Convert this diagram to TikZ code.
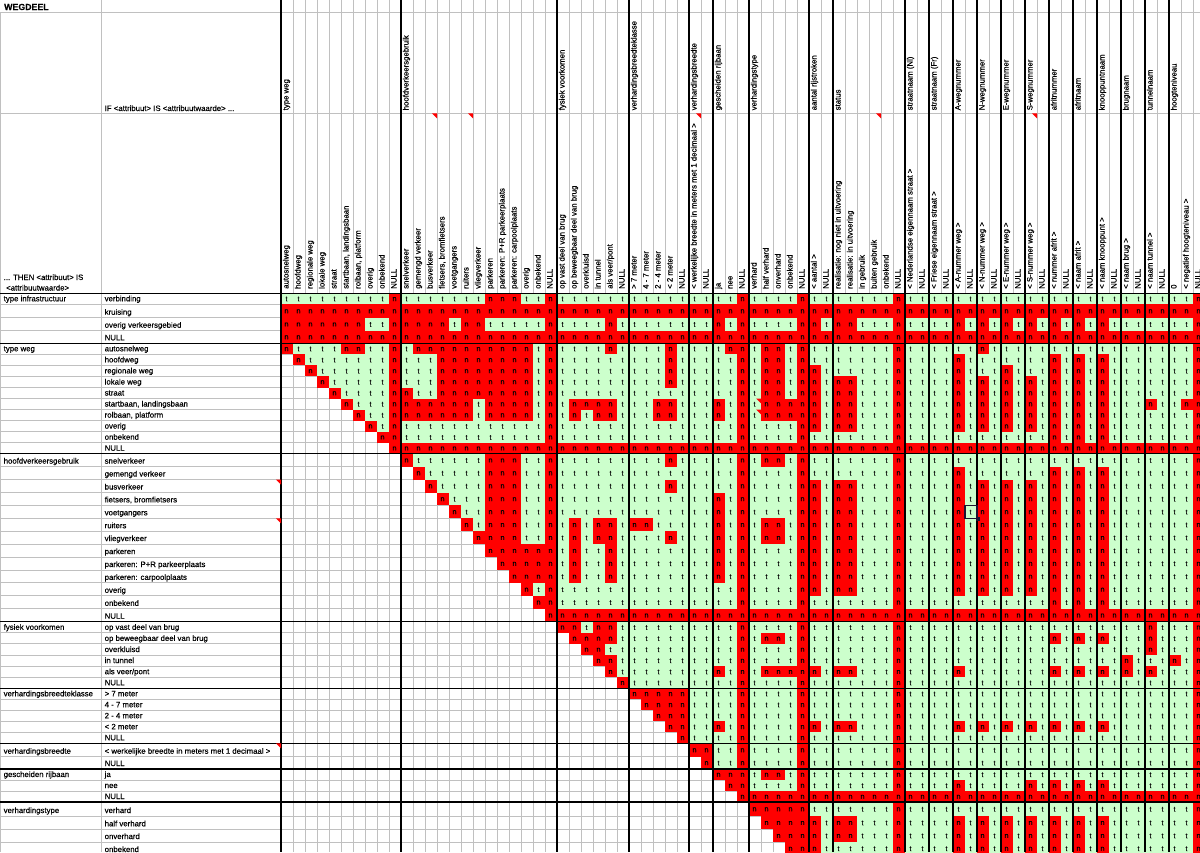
\documentclass[tikz,border=0pt]{standalone}
\usepackage{fontspec}
\setmainfont[FakeBold=0.35]{Liberation Sans}
\definecolor{cellgreen}{HTML}{CCFFCC}
\definecolor{cellred}{HTML}{FF0000}
\definecolor{gridgray}{HTML}{C0C0C0}
\definecolor{selcol}{HTML}{1E1432}
\tikzset{
  gridline/.style={draw=gridgray, line width=0.9pt},
  blackline/.style={draw=black, line width=1.1pt},
  lbl/.style={anchor=base west, inner sep=0pt, font=\fontsize{7.8}{9}\selectfont},
  vhead/.style={lbl, rotate=90},
  celltxt/.style={inner sep=0pt, font=\fontsize{7.2}{8}\selectfont},
  commark/.style={fill=cellred},
}
\newcount\ccol
\newcount\crow
\def\cellrow#1#2#3{\def\rtop{#1}\def\rbot{#2}\ccol=0 \parsecells#3\relax
  \ifnum\ccol=77 \else\node[text=blue,font=\Huge] at (600,400) {BAD ROW \the\crow};\fi
  \advance\crow by 1\relax}
\def\parsecells#1{\ifx#1\relax\let\pcnext\relax\else\def\pcnext{\csname cellX#1\endcsname\parsecells}\fi\pcnext}
\expandafter\def\csname cellX|\endcsname{}
\expandafter\def\csname cellX.\endcsname{\advance\ccol by 1\relax}
\expandafter\def\csname cellXt\endcsname{\drawcell{cellgreen}{t}}
\expandafter\def\csname cellXn\endcsname{\drawcell{cellred}{n}}
\def\drawcell#1#2{%
  \edef\cxl{\the\numexpr281+12*\ccol\relax}%
  \edef\cxr{\the\numexpr293+12*\ccol\relax}%
  \fill[#1] (\cxl,\rtop) rectangle (\cxr,\rbot);
  \node[celltxt, name=c\the\crow-\the\ccol] at ({\cxl+5.5},{(\rtop+\rbot)/2+0.3}) {#2};
  \advance\ccol by 1\relax}
\def\cmark#1#2{\fill[commark] ({#1-5},#2) -- (#1,#2) -- (#1,{#2+5}) -- cycle;}
\begin{document}
\begin{tikzpicture}[x=1pt,y=-1pt]
\useasboundingbox (0,0) rectangle (1200,852);
\clip (0,0) rectangle (1200,852);
\fill[white] (0,0) rectangle (1200,852);
% grid
\foreach \k in {0,...,77} \draw[gridline] ({281+12*\k},0) -- ({281+12*\k},852);
\draw[gridline] (101.7,0) -- (101.7,852);
\draw[gridline] (0.5,12.3) -- (0.5,852);
\foreach \y in {12.3,113.3,304.3,317.7,330.7,354.3,365.4,376.4,387.5,398.5,409.5,420.6,431.6,442.7,466.6,479.5,492.5,505.4,518.3,531.2,544.1,557.1,570.0,582.9,595.8,608.8,632.8,643.9,655.0,666.1,677.2,699.3,710.3,721.3,732.3,756.7,780,791,816,829.3,842}
  \draw[gridline] (0,\y) -- (1200,\y);
% cells
\crow=0
\cellrow{293.3}{304.3}{tttttttttn|tttttttnnnttn|tttttt|ttttt|tt|ttn|ttttn|tt|tttttn|tt|tt|tt|tt|tt|tt|tt|tt|tt|tt|tt|ttn}
\cellrow{304.3}{317.7}{nnnnnnnnnn|nnnnnnnnnnnnn|nnnnnn|nnnnn|nn|nnn|nnnnn|nn|nnnnnn|nn|nn|nn|nn|nn|nn|nn|nn|nn|nn|nn|nnn}
\cellrow{317.7}{330.7}{nnnnnnnttn|nnnntnntttttn|ttttnt|ttttt|tt|ntn|ttttn|nt|nntttn|tt|tt|nt|nt|nt|nt|nt|nt|nt|tt|tt|ttn}
\cellrow{330.7}{343.3}{nnnnnnnnnn|nnnnnnnnnnnnn|nnnnnn|nnnnn|nn|nnn|nnnnn|nn|nnnnnn|nn|nn|nn|nn|nn|nn|nn|nn|nn|nn|nn|nnn}
\cellrow{343.3}{354.3}{nttttnnttn|tnnnnnnnnnntn|ttttnt|tttnt|tt|tnn|tnntn|tt|tttttn|tt|tt|tt|nt|tt|tt|tt|tt|tt|tt|tt|ttn}
\cellrow{354.3}{365.4}{.ntttttttn|tttnnnnnnnntn|tttttt|tttnt|tt|ttn|tnntn|tt|tttttn|tt|tt|nt|tt|tt|tt|nt|nt|nt|tt|tt|ttn}
\cellrow{365.4}{376.4}{..nttttttn|tttnnnnnnnntn|tttttt|tttnt|tt|ttn|tnntn|nt|tttttn|tt|tt|nt|tt|nt|tt|nt|nt|nt|tt|tt|ttn}
\cellrow{376.4}{387.5}{...ntttttn|tttnnnnnnnntn|tttttt|tttnt|tt|ttn|tnntn|nt|nntttn|tt|tt|nt|nt|nt|nt|nt|nt|nt|tt|tt|ttn}
\cellrow{387.5}{398.5}{....nttttn|nttnnnnnnnntn|tttttt|ttttt|tt|ttn|tnntn|nt|nntttn|tt|tt|nt|nt|nt|nt|nt|nt|nt|tt|tt|ttn}
\cellrow{398.5}{409.5}{.....ntttn|nnnnnntnnnntn|tnnnnt|ttnnt|tt|ntn|tnnnn|nt|nntttn|tt|tt|nt|nt|nt|nt|nt|nt|nt|tt|nt|tnn}
\cellrow{409.5}{420.6}{......nttn|nnnnnntnnnntn|tntnnt|ttnnt|tt|ntn|tnnnn|nt|nntttn|tt|tt|nt|nt|nt|nt|nt|nt|nt|tt|tt|ttn}
\cellrow{420.6}{431.6}{.......ntn|ttttttttttttn|tttttt|ttttt|tt|ttn|ttttn|nt|nntttn|tt|tt|nt|nt|nt|nt|nt|nt|nt|tt|tt|ttn}
\cellrow{431.6}{442.7}{........nn|ttttttttttttn|tttttt|ttttt|tt|ttn|ttttn|tt|tttttn|tt|tt|tt|tt|tt|tt|nt|nt|nt|tt|tt|ttn}
\cellrow{442.7}{453.7}{.........n|nnnnnnnnnnnnn|nnnnnn|nnnnn|nn|nnn|nnnnn|nn|nnnnnn|nn|nn|nn|nn|nn|nn|nn|nn|nn|nn|nn|nnn}
\cellrow{453.7}{466.6}{..........|nttttttnnnttn|tttttt|tttnt|tt|ttn|tnntn|tt|tttttn|tt|tt|tt|tt|tt|tt|tt|tt|tt|tt|tt|ttn}
\cellrow{466.6}{479.5}{..........|.ntttttnnnttn|tttttt|ttttt|tt|ttn|ttttn|tt|tttttn|tt|tt|nt|tt|tt|tt|nt|nt|nt|tt|tt|ttn}
\cellrow{479.5}{492.5}{..........|..nttttnnnttn|tttttt|tttnt|tt|ttn|ttttn|nt|nntttn|tt|tt|nt|nt|nt|nt|nt|nt|nt|tt|tt|ttn}
\cellrow{492.5}{505.4}{..........|...ntttnnnttn|tttttt|ttttt|tt|ntn|ttttn|nt|nntttn|tt|tt|nt|nt|nt|nt|nt|nt|nt|tt|tt|ttn}
\cellrow{505.4}{518.3}{..........|....nttnnnttn|tttttt|ttttt|tt|ntn|ttttn|nt|nntttn|tt|tt|nt|nt|nt|nt|nt|nt|nt|tt|tt|ttn}
\cellrow{518.3}{531.2}{..........|.....ntnnnttn|tntnnt|nnttt|tt|ntn|tnntn|nt|nntttn|tt|tt|nt|nt|nt|nt|nt|nt|nt|tt|tt|ttn}
\cellrow{531.2}{544.1}{..........|......nnnnttn|tntnnt|tttnt|tt|ntn|tnntn|nt|nntttn|tt|tt|nt|nt|nt|nt|nt|nt|nt|tt|tt|ttn}
\cellrow{544.1}{557.1}{..........|.......nnnnnn|tnttnt|ttttt|tt|ntn|ttttn|nt|nntttn|tt|tt|nt|nt|nt|nt|nt|nt|nt|tt|tt|ttn}
\cellrow{557.1}{570.0}{..........|........nnnnn|tnttnt|ttttt|tt|ntn|ttttn|nt|nntttn|tt|tt|nt|nt|nt|nt|nt|nt|nt|tt|tt|ttn}
\cellrow{570.0}{582.9}{..........|.........nnnn|tnttnt|ttttt|tt|ntn|ttttn|nt|nntttn|tt|tt|nt|nt|nt|nt|nt|nt|nt|tt|tt|ttn}
\cellrow{582.9}{595.8}{..........|..........ntn|tttttt|ttttt|tt|ttn|ttttn|nt|nntttn|tt|tt|nt|nt|nt|nt|nt|nt|nt|tt|tt|ttn}
\cellrow{595.8}{608.8}{..........|...........nn|tttttt|ttttt|tt|ttn|ttttn|tt|tttttn|tt|tt|tt|tt|tt|tt|nt|nt|nt|tt|tt|ttn}
\cellrow{608.8}{621.7}{..........|............n|nnnnnn|nnnnn|nn|nnn|nnnnn|nn|nnnnnn|nn|nn|nn|nn|nn|nn|nn|nn|nn|nn|nn|nnn}
\cellrow{621.7}{632.8}{..........|.............|nntnnt|ttttt|tt|ttn|ttttn|tt|tttttn|tt|tt|tt|tt|tt|tt|tt|tt|tt|tt|nt|ttn}
\cellrow{632.8}{643.9}{..........|.............|.nnnnt|ttttt|tt|ttn|tnntn|tt|tttttn|tt|tt|tt|tt|tt|tt|nt|nt|nt|tt|nt|ttn}
\cellrow{643.9}{655.0}{..........|.............|..nntt|ttttt|tt|ttn|ttttn|tt|tttttn|tt|tt|tt|tt|tt|tt|tt|tt|tt|tt|nt|ttn}
\cellrow{655.0}{666.1}{..........|.............|...nnt|ttttt|tt|ttn|ttttn|tt|tttttn|tt|tt|tt|tt|tt|tt|tt|tt|tt|nt|tt|ntn}
\cellrow{666.1}{677.2}{..........|.............|....nt|ttttt|tt|ntn|tnnnn|nt|nntttn|tt|tt|nt|tt|tt|tt|nt|nt|nt|nt|nt|ttn}
\cellrow{677.2}{688.3}{..........|.............|.....n|ttttt|tt|ttn|ttttn|tt|tttttn|tt|tt|tt|tt|tt|tt|tt|tt|tt|tt|tt|ttn}
\cellrow{688.3}{699.3}{..........|.............|......|nnnnn|tt|ttn|ttttn|tt|tttttn|tt|tt|tt|tt|tt|tt|tt|tt|tt|tt|tt|ttn}
\cellrow{699.3}{710.3}{..........|.............|......|.nnnn|tt|ttn|ttttn|tt|tttttn|tt|tt|tt|tt|tt|tt|tt|tt|tt|tt|tt|ttn}
\cellrow{710.3}{721.3}{..........|.............|......|..nnn|tt|ttn|ttttn|tt|tttttn|tt|tt|tt|tt|tt|tt|tt|tt|tt|tt|tt|ttn}
\cellrow{721.3}{732.3}{..........|.............|......|...nn|tt|ntn|ttttn|nt|nntttn|tt|tt|nt|nt|nt|nt|nt|nt|nt|tt|tt|ttn}
\cellrow{732.3}{743.3}{..........|.............|......|....n|tt|ttn|ttttn|tt|tttttn|tt|tt|tt|tt|tt|tt|tt|tt|tt|tt|tt|ttn}
\cellrow{743.3}{756.7}{..........|.............|......|.....|nn|ttn|ttttn|tt|tttttn|tt|tt|tt|tt|tt|tt|tt|tt|tt|tt|tt|ttn}
\cellrow{756.7}{769}{..........|.............|......|.....|.n|ttn|ttttn|tt|tttttn|tt|tt|tt|tt|tt|tt|tt|tt|tt|tt|tt|ttn}
\cellrow{769}{780}{..........|.............|......|.....|..|nnn|tnntn|tt|tttttn|tt|tt|tt|tt|tt|tt|tt|tt|tt|tt|tt|ttn}
\cellrow{780}{791}{..........|.............|......|.....|..|.nn|ttttn|tt|tttttn|tt|tt|nt|tt|tt|nt|nt|nt|nt|tt|tt|ttn}
\cellrow{791}{802}{..........|.............|......|.....|..|..n|nnnnn|nn|nnnnnn|nn|nn|nn|nn|nn|nn|nn|nn|nn|nn|nn|nnn}
\cellrow{802}{816}{..........|.............|......|.....|..|...|nnnnn|tt|tttttn|tt|tt|tt|tt|tt|tt|tt|tt|tt|tt|tt|ttn}
\cellrow{816}{829.3}{..........|.............|......|.....|..|...|.nnnn|nt|nntttn|tt|tt|nt|nt|nt|nt|nt|nt|nt|tt|tt|ttn}
\cellrow{829.3}{842}{..........|.............|......|.....|..|...|..nnn|nt|nntttn|tt|tt|nt|nt|nt|nt|nt|nt|nt|tt|tt|ttn}
\cellrow{842}{855}{..........|.............|......|.....|..|...|...nn|nt|tttttn|tt|tt|nt|nt|nt|nt|nt|nt|nt|tt|tt|ttn}
% black lines
\foreach \k in {0,10,23,29,34,36,39,44,46,52,54,56,58,60,62,64,66,68,70,72,74}
  \draw[blackline] ({281+12*\k},0) -- ({281+12*\k},852);
\foreach \y in {293.3,343.3,453.7,621.7,688.3,743.3,769,802}
  \draw[blackline] (0,\y) -- (1200,\y);
% comment markers
\cmark{437}{113.3}\cmark{473}{113.3}\cmark{701}{113.3}\cmark{881}{113.3}\cmark{1037}{113.3}
\cmark{281}{479.5}\cmark{281}{518.3}\cmark{281}{743.3}
\cmark{761}{398.5}\cmark{761}{409.5}
% selection cursor
\draw[line width=1.6pt, draw=selcol] (965,505.4) rectangle (977,518.3);
\fill[selcol] (975.5,516.5) rectangle (979.5,520.5);
% header texts
\node[lbl, font=\fontsize{8.8}{10}\selectfont\bfseries, name=title] at (4,10) {WEGDEEL};
\node[lbl, name=ifhead] at (104.5,111) {IF <attribuut> IS <attribuutwaarde> ...};
\node[lbl, name=then1] at (3.5,280) {... THEN <attribuut> IS};
\node[lbl, name=then2] at (6,290.5) {<attribuutwaarde>};
% group heads (columns)
\foreach \c/\t in {0/type weg,10/hoofdverkeersgebruik,23/fysiek voorkomen,29/verhardingsbreedteklasse,34/verhardingsbreedte,36/gescheiden rijbaan,39/verhardingstype,44/aantal rijstroken,46/status,52/straatnaam (Nl),54/straatnaam (Fr),56/A-wegnummer,58/N-wegnummer,60/E-wegnummer,62/S-wegnummer,64/afritnummer,66/afritnaam,68/knooppuntnaam,70/brugnaam,72/tunnelnaam,74/hoogteniveau}
  \node[vhead, name=gh\c] at ({288.5+12*\c},110.5) {\t};
% value heads (columns)
\foreach \t [count=\i from 0] in {autosnelweg,hoofdweg,regionale weg,lokale weg,straat,{startbaan, landingsbaan},{rolbaan, platform},overig,onbekend,NULL,
  snelverkeer,gemengd verkeer,busverkeer,{fietsers, bromfietsers},voetgangers,ruiters,vliegverkeer,parkeren,parkeren: P+R parkeerplaats,parkeren: carpoolplaats,overig,onbekend,NULL,
  op vast deel van brug,op beweegbaar deel van brug,overkluisd,in tunnel,als veer/pont,NULL,
  > 7 meter,4 - 7 meter,2 - 4 meter,< 2 meter,NULL,
  < werkelijke breedte in meters met 1 decimaal >,NULL,
  ja,nee,NULL,
  verhard,half verhard,onverhard,onbekend,NULL,
  < aantal >,NULL,
  realisatie: nog niet in uitvoering,realisatie: in uitvoering,in gebruik,buiten gebruik,onbekend,NULL,
  < Nederlandse eigennaam straat >,NULL,< Friese eigennaam straat >,NULL,< A-nummer weg >,NULL,< N-nummer weg >,NULL,< E-nummer weg >,NULL,< S-nummer weg >,NULL,< nummer afrit >,NULL,< naam afrit >,NULL,< naam knooppunt >,NULL,< naam brug >,NULL,< naam tunnel >,NULL,
  0,< negatief hoogteniveau >,NULL}
  \node[vhead, name=vh\i] at ({288.5+12*\i},289) {\t};
% row group labels
\foreach \y/\t [count=\j] in {301.3/type infrastructuur,351.3/type weg,463.6/hoofdverkeersgebruik,629.8/fysiek voorkomen,696.3/verhardingsbreedteklasse,753.7/verhardingsbreedte,777/gescheiden rijbaan,813/verhardingstype}
  \node[lbl, name=ga\j] at (3.5,\y) {\t};
% row value labels
\foreach \y/\t [count=\j] in {301.3/verbinding,314.7/kruising,327.7/overig verkeersgebied,340.3/NULL,
  351.3/autosnelweg,362.4/hoofdweg,373.4/regionale weg,384.5/lokale weg,395.5/straat,406.5/{startbaan, landingsbaan},417.6/{rolbaan, platform},428.6/overig,439.7/onbekend,450.7/NULL,
  463.6/snelverkeer,476.5/gemengd verkeer,489.5/busverkeer,502.4/{fietsers, bromfietsers},515.3/voetgangers,528.2/ruiters,541.1/vliegverkeer,554.1/parkeren,567.0/parkeren: P+R parkeerplaats,579.9/parkeren: carpoolplaats,592.8/overig,605.8/onbekend,618.7/NULL,
  629.8/op vast deel van brug,640.9/op beweegbaar deel van brug,652.0/overkluisd,663.1/in tunnel,685.3/NULL,
  696.3/> 7 meter,707.3/4 - 7 meter,718.3/2 - 4 meter,729.3/< 2 meter,740.3/NULL,
  753.7/< werkelijke breedte in meters met 1 decimaal >,766/NULL,
  777/ja,788/nee,799/NULL,
  813/verhard,826.3/half verhard,839/onverhard,852/onbekend}
  \node[lbl, name=gb\j] at (104.5,\y) {\t};
\node[lbl, name=gbveer] at (104.5,674.2) {als veer/pont};
\end{tikzpicture}
\end{document}
